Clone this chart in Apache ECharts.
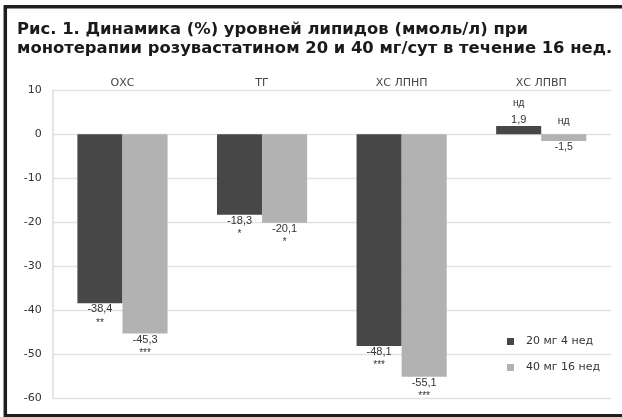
<!DOCTYPE html>
<html>
<head>
<meta charset="utf-8">
<script src="https://cdn.jsdelivr.net/npm/echarts@6/dist/echarts.min.js"></script>
<style>
html,body{margin:0;padding:0;background:#fff;}
#chart{width:622px;height:417px;}
</style>
</head>
<body>
<div id="chart"></div>
<script>
var titleText = 'Рис. 1. Динамика (%) уровней липидов (ммоль/л) при\nмонотерапии розувастатином 20 и 40 мг/сут в течение 16 нед.';
var categories = ['ОХС', 'ТГ', 'ХС ЛПНП', 'ХС ЛПВП'];
var seriesNames = ['20 мг 4 нед', '40 мг 16 нед'];
var values20 = [-38.4, -18.3, -48.1, 1.9];
var values40 = [-45.3, -20.1, -55.1, -1.5];
var sig20 = ['**', '*', '***', 'нд'];
var sig40 = ['***', '*', '***', 'нд'];
var yTicks = [10, 0, -10, -20, -30, -40, -50, -60];

var FONT = 'Liberation Sans, Arial, sans-serif';
var FONT2 = 'DejaVu Sans, sans-serif';
var rich = {
  v: {fontSize: 11, lineHeight: 12, color: '#333', fontFamily: FONT},
  s: {fontSize: 10, lineHeight: 15, color: '#333', fontFamily: FONT},
  n: {fontSize: 10, lineHeight: 21, color: '#333', fontFamily: FONT}
};
function fmt(v) { return String(v).replace('.', ','); }
function makeData(vals, sigs) {
  return vals.map(function (v, i) {
    var sig = sigs[i];
    var label;
    if (v >= 0) {
      label = {show: true, position: 'top', distance: 0,
        formatter: '{n|' + sig + '}\n{v|' + fmt(v) + '}', rich: rich};
    } else if (sig === 'нд') {
      label = {show: true, position: 'inside', offset: [0, -3],
        formatter: sig + '\n\n' + fmt(v), color: '#333', fontSize: 10.5, lineHeight: 13, fontFamily: FONT};
    } else {
      label = {show: true, position: 'bottom', distance: 0,
        formatter: '{v|' + fmt(v) + '}\n{s|' + sig + '}', rich: rich};
    }
    return {value: v, label: label};
  });
}

var chart = echarts.init(document.getElementById('chart'), null, {renderer: 'canvas'});
chart.setOption({
  animation: false,
  backgroundColor: '#fff',
  textStyle: {fontFamily: FONT},
  title: {
    text: titleText,
    left: 12, top: 15,
    textStyle: {fontSize: 16.4, fontWeight: 'bold', lineHeight: 19, color: '#1a1a1a', fontFamily: FONT2}
  },
  graphic: [{
    type: 'rect', silent: true, z: 100,
    shape: {x: 5.3, y: 6.7, width: 640, height: 409},
    style: {fill: 'none', stroke: '#1e1e1e', lineWidth: 3.5}
  }],
  legend: {
    orient: 'vertical', left: 502, top: 331,
    itemWidth: 7, itemHeight: 7, itemGap: 15,
    icon: 'rect',
    data: seriesNames,
    formatter: function (n) { return '{t|' + n + '}'; },
    textStyle: {rich: {t: {fontSize: 11, lineHeight: 13, color: '#333', padding: [0, 0, 0, 7], fontFamily: FONT2}}}
  },
  grid: {left: 52.7, right: 11, top: 90.3, bottom: 18.7, containLabel: false},
  xAxis: {
    type: 'category', position: 'top', data: categories,
    axisLine: {show: false}, axisTick: {show: false},
    axisLabel: {margin: 2, fontSize: 11, color: '#444', fontFamily: FONT2},
    splitLine: {show: false}
  },
  yAxis: {
    type: 'value', min: -60, max: 10, interval: 10,
    axisLine: {show: true, onZero: false, lineStyle: {color: '#dcdcdc', width: 1.5}},
    axisTick: {show: false},
    axisLabel: {margin: 11, fontSize: 11, color: '#333', fontFamily: FONT2,
      formatter: function (v) { return yTicks.indexOf(v) >= 0 ? String(v) : ''; }},
    splitLine: {show: true, lineStyle: {color: '#e2e2e2', width: 1.3}}
  },
  series: [
    {name: seriesNames[0], type: 'bar', barWidth: '32.3%', barGap: '0%',
     itemStyle: {color: '#474747'}, data: makeData(values20, sig20)},
    {name: seriesNames[1], type: 'bar', barWidth: '32.3%', barGap: '0%',
     itemStyle: {color: '#b2b2b2'}, data: makeData(values40, sig40)}
  ]
});
</script>
</body>
</html>
